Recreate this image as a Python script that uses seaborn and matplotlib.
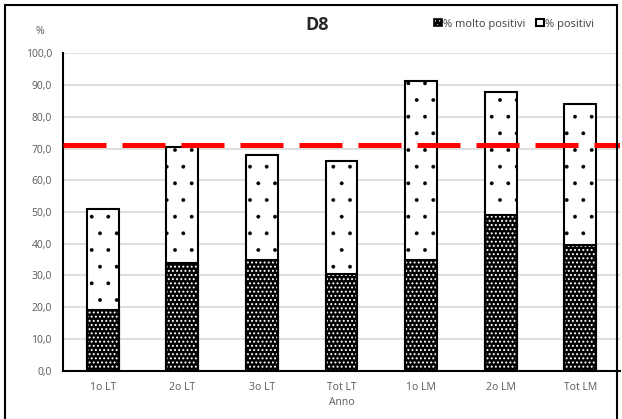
import numpy as np
import pandas as pd
import seaborn as sns
import matplotlib.pyplot as plt
from matplotlib.patches import Rectangle, Patch

# data
anni = ["1o LT", "2o LT", "3o LT", "Tot LT", "1o LM", "2o LM", "Tot LM"]
molto_positivi = [19.1, 33.8, 35.0, 30.5, 35.0, 48.9, 39.7]
positivi = [32.0, 36.7, 33.1, 35.5, 56.3, 38.9, 44.2]
soglia = 71.0

df = pd.DataFrame({"Anno": anni, "molto": molto_positivi, "pos": positivi})
df["tot"] = df["molto"] + df["pos"]

sns.set_style("white")
plt.rcParams['font.family'] = ['Open Sans', 'DejaVu Sans']
plt.rcParams['hatch.linewidth'] = 0.3
grey = "#595959"

fig = plt.figure(figsize=(6.22, 4.19), dpi=100)
ax = fig.add_axes([63/622, 1-370.7/419, 557/622, 317.4/419])

# upper segment (total), then the lower segment over it
sns.barplot(data=df, x="Anno", y="tot", ax=ax, width=0.4, color="white",
            edgecolor="black", linewidth=1.5, hatch=".", zorder=2)
n_before = len(ax.patches)
# dark segment: black fill with white dot hatch, then a black outline
sns.barplot(data=df, x="Anno", y="molto", ax=ax, width=0.4, color="black",
            edgecolor="white", linewidth=0, hatch="....", zorder=3)
for p in ax.patches[n_before:]:
    if hasattr(p, "set_hatch_linewidth"):
        p.set_hatch_linewidth(0.9)
sns.barplot(data=df, x="Anno", y="molto", ax=ax, width=0.4, fill=False,
            edgecolor="black", linewidth=1.5, zorder=3.5)

ax.axhline(soglia, color="#ff0000", lw=3.6, dashes=(8.6, 3.2), zorder=4)

ax.set_ylim(0, 100)
ax.set_xlim(-0.5, 6.5)
ax.set_yticks(np.arange(0, 101, 10))
ax.set_yticklabels([f"{v:.1f}".replace(".", ",") for v in np.arange(0, 101, 10)])
ax.yaxis.grid(True, color="#d9d9d9", lw=1.2, zorder=0)
ax.set_axisbelow(True)
ax.tick_params(axis="both", length=0, labelsize=7.5, labelcolor=grey, pad=8)
ax.tick_params(axis="x", pad=8)
for s in ["top", "right"]:
    ax.spines[s].set_visible(False)
for s in ["left", "bottom"]:
    ax.spines[s].set_color("black")
    ax.spines[s].set_linewidth(1.5)
ax.set_xlabel("Anno", fontsize=7.5, color=grey, labelpad=3)
ax.set_ylabel("")

fig.text(40/622, 1-32/419, "%", fontsize=7.5, color=grey, ha="center", va="center")
fig.text(317/622, 1-25/419, "D8", fontsize=13, fontweight="bold", ha="center", va="center")

dark_h = (Patch(facecolor="black", edgecolor="white", hatch="....", lw=0),
          Patch(fill=False, edgecolor="black", lw=1.2))
light_h = Patch(facecolor="white", edgecolor="black", lw=1.5)
fig.legend([dark_h, light_h], ["% molto positivi", "% positivi"], loc="center right",
           bbox_to_anchor=(604/622, 1-24/419), ncol=2, frameon=False, fontsize=8,
           handlelength=0.7, handleheight=0.7, handletextpad=0.1, columnspacing=1.0,
           labelcolor="#404040")

# outer chart frame
fig.patches.append(Rectangle((5/622, -0.02), 612/622, 1.02-5/419, transform=fig.transFigure,
                             fill=False, edgecolor="black", lw=1.5, zorder=10))

fig.savefig("out.png", dpi=100)
